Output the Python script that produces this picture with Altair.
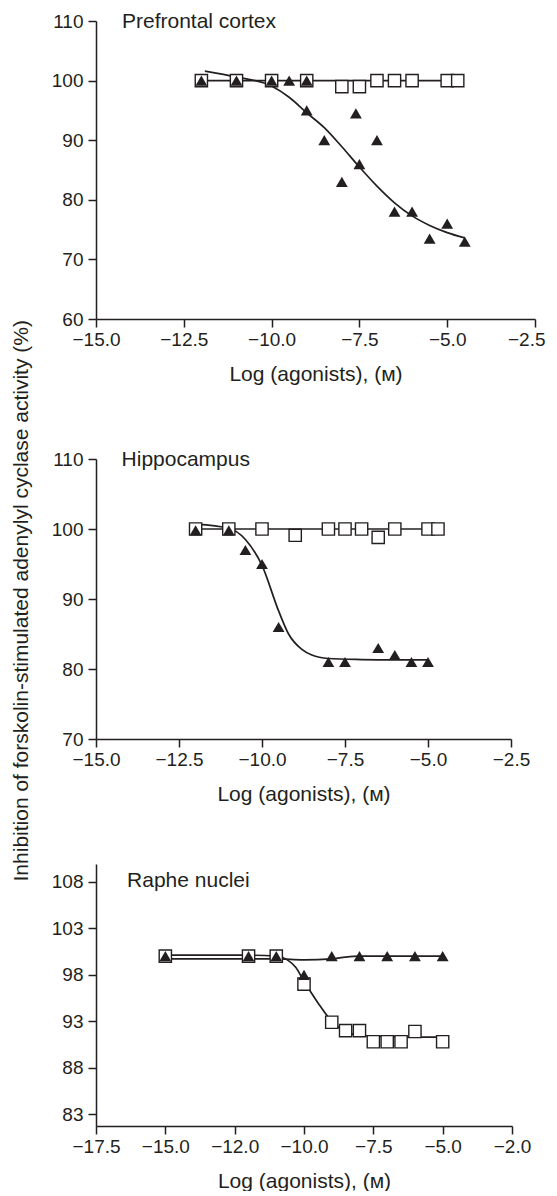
import altair as alt
import pandas as pd

INK = "#231f20"
FONT = "Liberation Sans"

# ---------------- Panel 1: Prefrontal cortex ----------------
p1_sq_x = [-12, -11, -10, -9, -8, -7.5, -7, -6.5, -6, -5, -4.7]
p1_sq_y = [100, 100, 100, 100, 99, 99, 100, 100, 100, 100, 100]
p1_tri_x = [-12, -11, -10, -9.5, -9, -9, -8.5, -8, -7.6, -7.5, -7, -6.5, -6, -5.5, -5, -4.5]
p1_tri_y = [100, 100, 100, 100, 100, 95, 90, 83, 94.5, 86, 90, 78, 78, 73.5, 76, 73]
p1_sqfit_x = [-12, -4.7]
p1_sqfit_y = [100, 100]
p1_trifit_x = [-11.9, -11, -10, -9.5, -9, -8.5, -8, -7.5, -7, -6.5, -6, -5.5, -5, -4.5]
p1_trifit_y = [101.6, 100.6, 99.1, 97.2, 94.6, 92.1, 88.9, 85.5, 82.3, 79.5, 77.3, 75.7, 74.5, 73.6]

# ---------------- Panel 2: Hippocampus ----------------
p2_sq_x = [-12, -11, -10, -9, -8, -7.5, -7, -6.5, -6, -5, -4.7]
p2_sq_y = [100, 100, 100, 99.1, 100, 100, 100, 98.8, 100, 100, 100]
p2_tri_x = [-12, -11, -10.5, -10, -9.5, -8, -7.5, -6.5, -6, -5.5, -5]
p2_tri_y = [99.8, 99.8, 97, 95, 86, 81, 81, 83, 82, 81, 81]
p2_sqfit_x = [-12, -4.7]
p2_sqfit_y = [100, 100]
p2_trifit_x = [-12, -11, -10.5, -10, -9.5, -9.2, -8.8, -8.5, -8, -7, -6, -5]
p2_trifit_y = [100.7, 100.1, 98.5, 94.8, 88.3, 85.0, 82.8, 82.0, 81.5, 81.35, 81.3, 81.3]

# ---------------- Panel 3: Raphe nuclei ----------------
p3_sq_x = [-15, -12, -11, -10, -9, -8.5, -8, -7.5, -7, -6.5, -6, -5]
p3_sq_y = [100, 100, 100, 97, 92.9, 92, 92, 90.8, 90.8, 90.8, 91.9, 90.8]
p3_tri_x = [-15, -12, -11, -10, -9, -8, -7, -6, -5]
p3_tri_y = [100, 100, 100, 98, 100, 100, 100, 100, 100]
p3_sqfit_x = [-15, -12, -11, -10.6, -10.3, -10, -9.5, -9, -8.5, -8, -7, -6, -5]
p3_sqfit_y = [100.1, 100.1, 100.0, 99.6, 98.8, 97.3, 95.0, 93.0, 91.9, 91.5, 91.35, 91.3, 91.3]
p3_trifit_x = [-15, -12, -11, -10, -9, -8.5, -8, -7, -5]
p3_trifit_y = [99.7, 99.7, 99.7, 99.6, 99.7, 99.9, 100.0, 100.0, 100.0]

# ---------------- Axes ----------------
x_ticks_12 = [-15, -12.5, -10, -7.5, -5, -2.5]
y_ticks_1 = [60, 70, 80, 90, 100, 110]
y_ticks_2 = [70, 80, 90, 100, 110]
x_ticks_3 = [-17.5, -15, -12.5, -10, -7.5, -5, -2.5]
x_labels_3 = ["\u221217.5", "\u221215.0", "\u221212.0", "\u221210.0", "\u22127.5", "\u22125.0", "\u22122.0"]
y_ticks_3 = [83, 88, 93, 98, 103, 108]

X_TITLE = "Log (agonists), (\u1d0d)"
Y_TITLE = "Inhibition of forskolin-stimulated adenylyl cyclase activity (%)"


def panel(name, lx, ly, sq_x, sq_y, tri_x, tri_y, sf_x, sf_y, tf_x, tf_y,
          xdom, xticks, ydom, yticks, w, h, xlabels=None, squeeze_last=False):
    xs = alt.Scale(domain=xdom, nice=False, zero=False)
    ys = alt.Scale(domain=ydom, nice=False, zero=False)
    extra = {}
    if squeeze_last:
        test = "datum.value >= %s" % (xdom[1] - 0.01)
        extra = dict(
            labelAlign={"condition": {"test": test, "value": "right"}, "value": "center"},
            labelOffset={"condition": {"test": test, "value": 10}, "value": 0},
        )
    if xlabels is None:
        xaxis = alt.Axis(values=xticks, format=".1f", title=X_TITLE, **extra)
    else:
        arr = "[" + ",".join("'" + s + "'" for s in xlabels) + "]"
        expr = arr + "[round((datum.value - (%s)) / 2.5)]" % xdom[0]
        xaxis = alt.Axis(values=xticks, labelExpr=expr, title=X_TITLE, **extra)
    yaxis = alt.Axis(values=yticks, format="d", title=None)

    X = alt.X("x:Q", scale=xs, axis=xaxis)
    Y = alt.Y("y:Q", scale=ys, axis=yaxis)

    sqfit = alt.Chart(pd.DataFrame({"x": sf_x, "y": sf_y})).mark_line(
        color=INK, strokeWidth=1.7, interpolate="monotone").encode(x=X, y=Y)
    trifit = alt.Chart(pd.DataFrame({"x": tf_x, "y": tf_y})).mark_line(
        color=INK, strokeWidth=1.7, interpolate="monotone").encode(x=X, y=Y)
    squares = alt.Chart(pd.DataFrame({"x": sq_x, "y": sq_y})).mark_point(
        shape="square", filled=True, fill="white", fillOpacity=1, opacity=1,
        stroke=INK, strokeWidth=1.4, size=150).encode(x=X, y=Y)
    tris = alt.Chart(pd.DataFrame({"x": tri_x, "y": tri_y})).mark_point(
        shape="triangle-up", filled=True, color=INK, opacity=1, size=140).encode(x=X, y=Y)
    label = alt.Chart(pd.DataFrame({"t": [name], "x": [lx], "y": [ly]})).mark_text(
        align="left", baseline="alphabetic", font=FONT, fontSize=21, color=INK).encode(
        x=X, y=Y, text="t:N")
    return alt.layer(sqfit, trifit, squares, tris, label).properties(width=w, height=h)


p1 = panel("Prefrontal cortex", -14.26, 108.9, p1_sq_x, p1_sq_y, p1_tri_x, p1_tri_y,
           p1_sqfit_x, p1_sqfit_y, p1_trifit_x, p1_trifit_y,
           [-15, -2.5], x_ticks_12, [60, 110], y_ticks_1, 439, 298, squeeze_last=True)
p2 = panel("Hippocampus", -14.23, 109.0, p2_sq_x, p2_sq_y, p2_tri_x, p2_tri_y,
           p2_sqfit_x, p2_sqfit_y, p2_trifit_x, p2_trifit_y,
           [-15, -2.5], x_ticks_12, [70, 110], y_ticks_2, 415, 280)
p3 = panel("Raphe nuclei", -16.38, 107.46, p3_sq_x, p3_sq_y, p3_tri_x, p3_tri_y,
           p3_sqfit_x, p3_sqfit_y, p3_trifit_x, p3_trifit_y,
           [-17.5, -2.5], x_ticks_3, [81.75, 109.9], y_ticks_3, 416, 262, xlabels=x_labels_3)

inner = alt.vconcat(p1, p2, spacing=65)
chart = alt.vconcat(inner, p3, spacing=60).properties(
    title=alt.TitleParams(text=Y_TITLE, orient="left", anchor="middle", font=FONT,
                          fontSize=21, fontWeight="normal", color=INK, offset=19),
    padding={"left": 3, "top": 2, "right": 0, "bottom": 0},
).configure_view(stroke=None).configure_axis(
    grid=False, domainColor=INK, tickColor=INK, labelColor=INK, titleColor=INK,
    labelFont=FONT, titleFont=FONT, labelFontSize=19, titleFontSize=21,
    titleFontWeight="normal", domainWidth=1.5, tickWidth=1.5, tickSize=8,
    labelPadding=3, titlePadding=14, labelOverlap=False, labelFlush=False,
).configure_axisY(labelPadding=5)

chart.save("out.html", embed_options={"renderer": "svg", "actions": False})
